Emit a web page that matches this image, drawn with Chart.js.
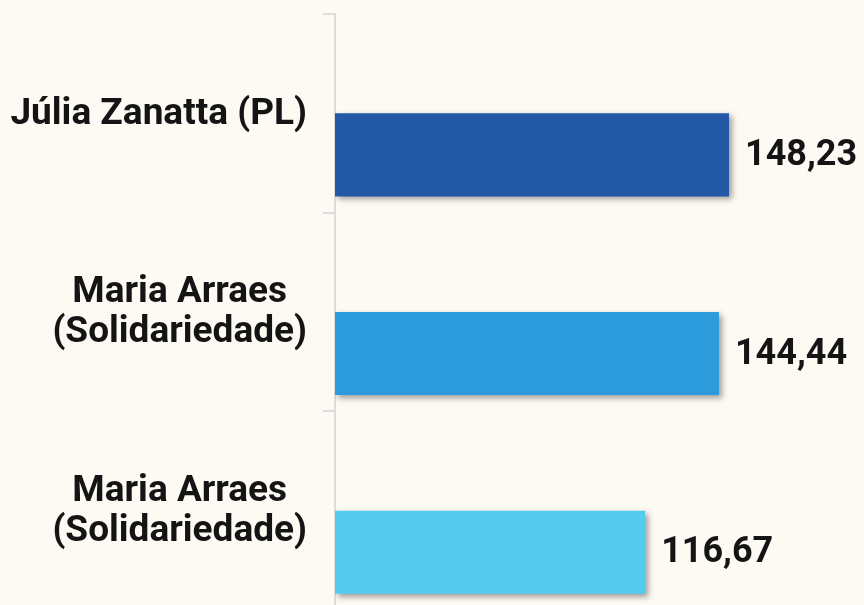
<!DOCTYPE html>
<html>
<head>
<meta charset="utf-8">
<script src="https://cdn.jsdelivr.net/npm/chart.js@4/dist/chart.umd.min.js"></script>
<style>
  html, body { margin: 0; padding: 0; background: #fdfaf4; overflow: hidden; width: 864px; height: 605px; }
  #wrap { width: 864px; height: 610px; position: relative; }
</style>
</head>
<body>
<div id="wrap"><canvas id="c"></canvas></div>
<script>
const categories = [
  ["Júlia Zanatta (PL)"],
  ["Maria Arraes", "(Solidariedade)"],
  ["Maria Arraes", "(Solidariedade)"]
];
const values = [148.23, 144.44, 116.67];
const barColors = ["#2359a7", "#2c9bdb", "#55cbf0"];
const axisMax = 199;

const fmt = v => v.toFixed(2).replace('.', ',');

const shadowPlugin = {
  id: 'barShadow',
  beforeDatasetDraw(chart, args) {
    const ctx = chart.ctx;
    ctx.save();
    ctx.shadowColor = 'rgba(0,0,0,0.38)';
    ctx.shadowBlur = 6;
    ctx.shadowOffsetX = 3;
    ctx.shadowOffsetY = 3;
  },
  afterDatasetDraw(chart) {
    chart.ctx.restore();
  }
};

const labelPlugin = {
  id: 'labels',
  afterDraw(chart) {
    const ctx = chart.ctx;
    const yScale = chart.scales.y;
    ctx.save();
    ctx.fillStyle = '#141414';
    ctx.font = 'bold 37px Roboto';
    ctx.textBaseline = 'middle';
    ctx.textAlign = 'center';
    const lh = 40;
    const blockRight = yScale.right - 28;
    categories.forEach((lines, i) => {
      const y = yScale.getPixelForValue(i);
      const w = Math.max(...lines.map(l => ctx.measureText(l).width));
      const cx = blockRight - w / 2;
      lines.forEach((l, j) => {
        ctx.fillText(l, cx, y + 1 + (j - (lines.length - 1) / 2) * lh);
      });
    });
    ctx.font = 'bold 36px Roboto';
    ctx.textAlign = 'left';
    const meta = chart.getDatasetMeta(1);
    meta.data.forEach((bar, i) => {
      ctx.fillText(fmt(values[i]), bar.x + 16, bar.y + 1);
    });
    ctx.restore();
  }
};

new Chart(document.getElementById('c'), {
  type: 'bar',
  data: {
    labels: categories,
    datasets: [
      { label: '', data: [], backgroundColor: 'rgba(0,0,0,0)' },
      { label: 'Valores', data: values, backgroundColor: barColors, borderWidth: 0 }
    ]
  },
  options: {
    indexAxis: 'y',
    responsive: true,
    maintainAspectRatio: false,
    animation: false,
    layout: { padding: { top: 14, bottom: 0, left: 0, right: 0 } },
    categoryPercentage: 0.836,
    barPercentage: 1,
    plugins: {
      legend: { display: false },
      tooltip: { enabled: false },
      barShadow: {}
    },
    scales: {
      x: { display: false, min: 0, max: axisMax },
      y: {
        position: 'left',
        afterFit(scale) { scale.width = 335; },
        grid: {
          drawOnChartArea: false,
          drawTicks: true,
          tickLength: 12,
          color: '#dcdcdc',
          lineWidth: 2,
          offset: true
        },
        border: { display: true, color: '#dcdcdc', width: 2 },
        ticks: { display: false }
      }
    }
  },
  plugins: [shadowPlugin, labelPlugin]
});
</script>
</body>
</html>
